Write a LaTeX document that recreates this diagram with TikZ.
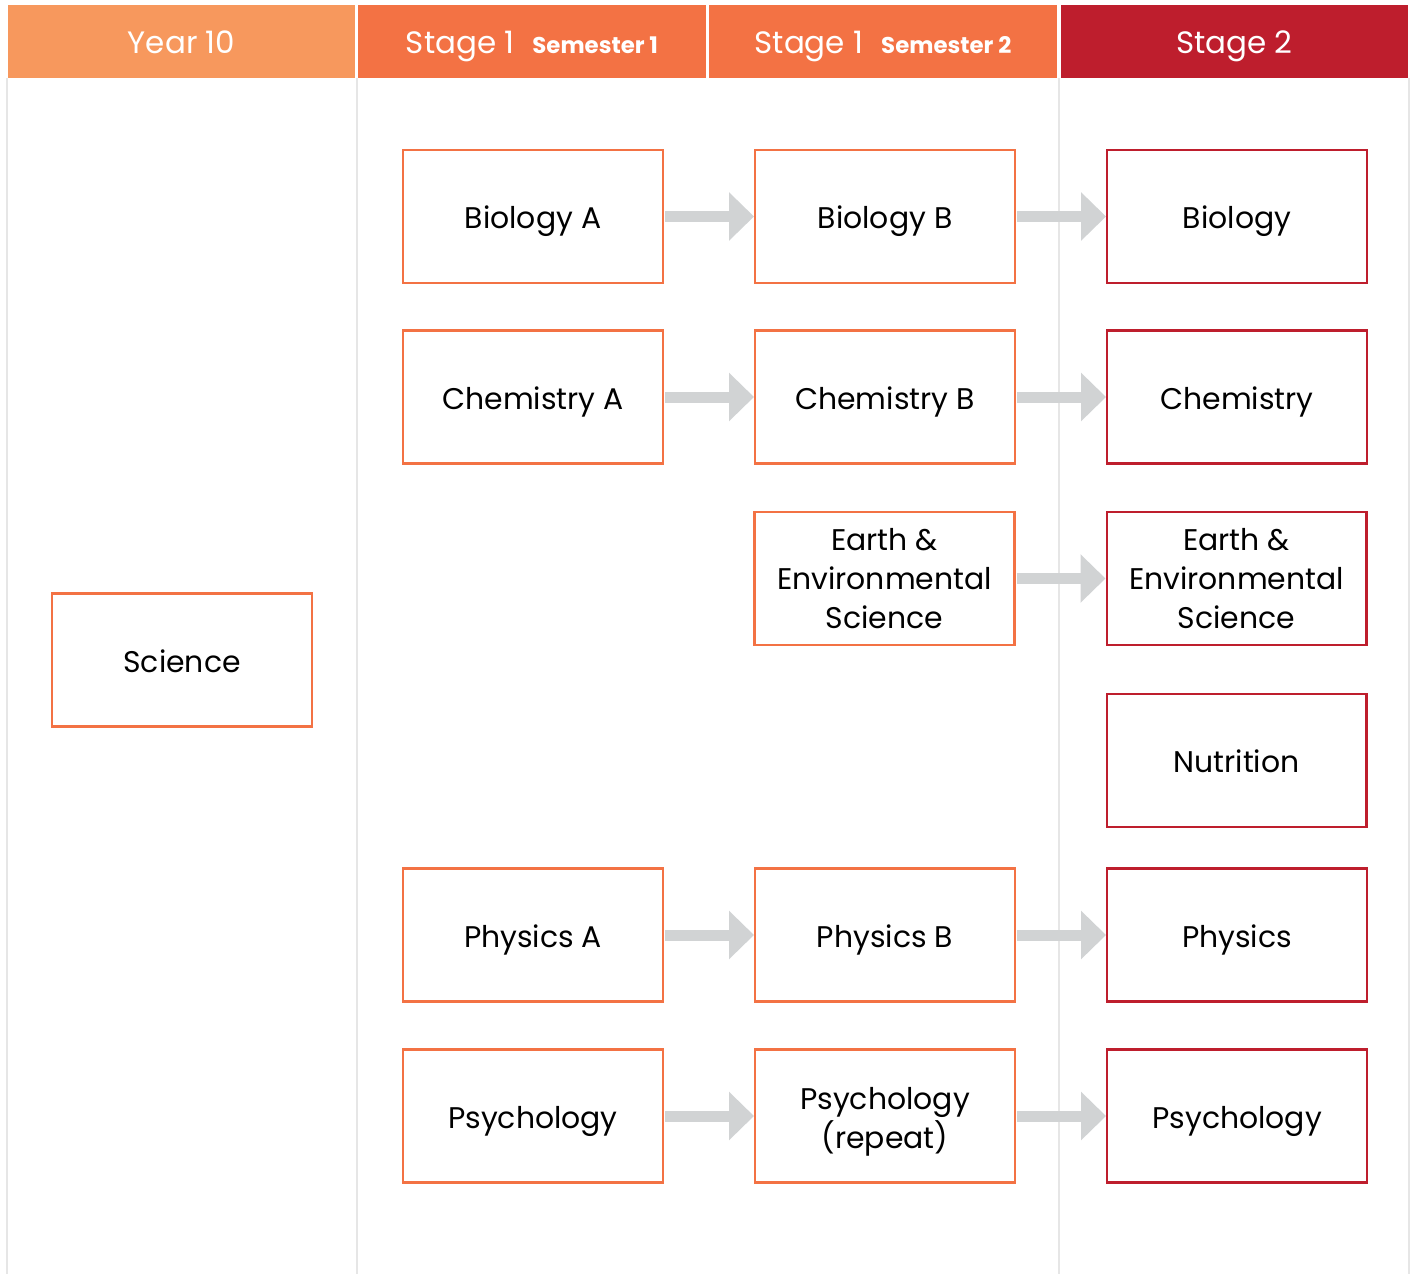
\documentclass[tikz,border=0pt]{standalone}
\usepackage{fontspec}
\setmainfont{Poppins}
\usetikzlibrary{positioning}
\usetikzlibrary{arrows.meta}

\definecolor{yearorange}{HTML}{F7985D}
\definecolor{stageone}{HTML}{F37244}
\definecolor{stagetwo}{HTML}{BE1E2D}
\definecolor{arrowgrey}{HTML}{D1D3D4}
\definecolor{rulegrey}{HTML}{E6E6E6}

\begin{document}
\begin{tikzpicture}[x=0.02cm, y=-0.02cm,
    course/.style={draw=stageone, line width=1.2pt, fill=white,
        minimum width=5.2cm, minimum height=2.66cm, inner sep=2pt,
        align=center, font=\fontsize{17}{22}\selectfont,
        text height=14pt, text depth=0pt},
    multi/.style={text height={}, text depth={}},
    final/.style={course, draw=stagetwo},
    head/.style={minimum width=6.96cm, minimum height=1.46cm,
        inner sep=0pt, text=white, font=\fontsize{17.6}{20}\selectfont,
        text height=13.8pt, text depth=0pt},
    flow/.style={draw=arrowgrey, line width=0.22cm, shorten <=0.6pt,
        -{Triangle[length=0.5cm, width=0.94cm]}}
]
    \useasboundingbox (0,0) rectangle (1415,1274);

    % column rules
    \foreach \x in {7, 357, 1059, 1409}
    {
        \draw[rulegrey, line width=1.4pt] (\x,78) -- (\x,1274);
    }

    % header row
    \node[head, fill=yearorange] (year) at (181.5,41.5) {Year 10};
    \node[head, fill=stageone] (semone) at (532,41.5)
    {Stage 1\hspace{0.36cm}{\fontsize{13}{14}\selectfont\bfseries Semester 1}};
    \node[head, fill=stageone] (semtwo) at (883,41.5)
    {Stage 1\hspace{0.36cm}{\fontsize{13}{14}\selectfont\bfseries Semester 2}};
    \node[head, fill=stagetwo] (stagetwo) at (1234.5,41.5) {Stage 2};

    % year 10
    \node[course] (sci) at (182,660) {Science};

    % stage 1 semester 1
    \foreach \n/\y/\a in {bio/216.5/Biology A, chem/397/Chemistry A,
        phys/935/Physics A, psy/1116/Psychology}
    {
        \node[course] (\n A) at (533,\y) {\a};
    }

    % stage 1 semester 2
    \foreach \n/\b in {bio/Biology B, chem/Chemistry B, phys/Physics B}
    {
        \node[course, right=1.8cm of \n A] (\n B) {\b};
    }
    \node[course, right=1.8cm of psyA] (psyB) {};
    \node[course, multi, draw=none, fill=none, yshift=-0.12cm]
    (psyBtext) at (psyB) {Psychology\\(repeat)};
    \node[course, multi] (earthB) at (884.5,578.5)
    {Earth \&\\Environmental\\Science};

    % stage 2
    \foreach \n/\c in {bio/Biology, chem/Chemistry, phys/Physics,
        psy/Psychology}
    {
        \node[final, right=1.8cm of \n B] (\n C) {\c};
    }
    \node[final, multi, right=1.8cm of earthB] (earthC)
    {Earth \&\\Environmental\\Science};
    \node[final, below=0.94cm of earthC] (nutC) {Nutrition};

    % progression arrows
    \foreach \n in {bio, chem, phys, psy}
    {
        \draw[flow] (\n A) -- (\n B);
        \draw[flow] (\n B) -- (\n C);
    }
    \draw[flow] (earthB) -- (earthC);
\end{tikzpicture}
\end{document}
